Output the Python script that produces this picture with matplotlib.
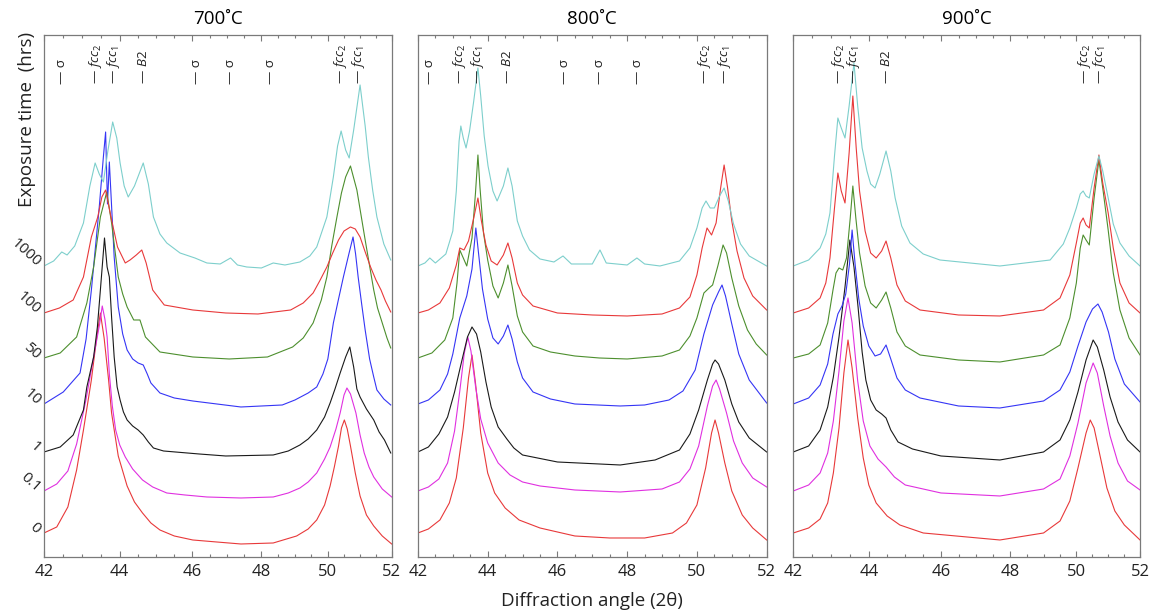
import matplotlib
matplotlib.use('Agg')
import matplotlib.pyplot as plt
import matplotlib.transforms as mtransforms
from matplotlib.ticker import FixedLocator, NullFormatter, FormatStrFormatter, MultipleLocator
import numpy as np

plt.rcParams['font.family'] = ['Open Sans', 'DejaVu Sans']
plt.rcParams['mathtext.fontset'] = 'custom'
plt.rcParams['mathtext.rm'] = 'Open Sans'
plt.rcParams['mathtext.it'] = 'Open Sans:italic'

# exposure times, bottom trace first
TIMES = ['0', '0.1', '1', '10', '50', '100', '1000']

# diffraction patterns: (2theta, intensity above own baseline)
# ---- 700 C ----
p700_0 = [(42.0, 0), (42.33, 6), (42.62, 26), (42.85, 63), (43.03, 103), (43.24, 153), (43.38, 195),
          (43.48, 220), (43.58, 195), (43.7, 153), (43.78, 120), (43.96, 77), (44.2, 47), (44.4, 31),
          (44.62, 20), (44.85, 10), (45.1, 3), (45.5, -3), (46.02, -7), (46.7, -9), (47.4, -11),
          (48.35, -10), (49.05, -3), (49.4, 4), (49.66, 13), (49.9, 28), (50.07, 47), (50.2, 66),
          (50.33, 87), (50.42, 105), (50.51, 113), (50.6, 104), (50.7, 87), (50.85, 60), (51.0, 37),
          (51.2, 18), (51.43, 7), (51.7, -3), (52.0, -11)]
p700_01 = [(42.0, 0), (42.33, 7), (42.62, 20), (42.85, 47), (43.09, 90), (43.3, 134), (43.46, 167),
           (43.53, 185), (43.6, 172), (43.66, 154), (43.72, 117), (43.8, 85), (43.89, 61), (44.0, 46),
           (44.15, 34), (44.35, 22), (44.62, 11), (44.9, 4), (45.29, -2), (45.8, -4), (46.42, -6),
           (47.4, -7), (48.35, -6), (48.8, -2), (49.15, 3), (49.4, 9), (49.66, 18), (49.9, 32),
           (50.07, 44), (50.25, 62), (50.38, 78), (50.5, 96), (50.59, 103), (50.7, 97), (50.87, 78),
           (51.0, 56), (51.13, 38), (51.28, 24), (51.43, 14), (51.7, 2), (52.0, -6)]
p700_1 = [(42.0, 0), (42.42, 5), (42.76, 17), (43.03, 42), (43.12, 65), (43.3, 95), (43.4, 125),
          (43.48, 162), (43.59, 214), (43.66, 185), (43.72, 175), (43.78, 135), (43.85, 95), (43.93, 65),
          (44.01, 52), (44.1, 40), (44.2, 32), (44.35, 26), (44.5, 22), (44.64, 17), (44.78, 10),
          (44.92, 4), (45.2, 1), (45.53, 0), (46.2, -2), (46.96, -4), (48.35, -3), (48.8, 1),
          (49.15, 7), (49.4, 13), (49.66, 22), (49.9, 35), (50.07, 49), (50.22, 63), (50.38, 79),
          (50.55, 95), (50.68, 105), (50.8, 85), (50.9, 63), (51.0, 55), (51.2, 43), (51.43, 32),
          (51.6, 20), (51.77, 12), (51.97, -1)]
p700_10 = [(42.0, 0), (42.5, 12), (42.94, 31), (43.1, 65), (43.24, 114), (43.45, 197), (43.56, 247),
           (43.62, 272), (43.67, 200), (43.72, 242), (43.85, 147), (43.96, 97), (44.08, 70), (44.2, 54),
           (44.35, 45), (44.5, 41), (44.64, 39), (44.75, 30), (44.85, 21), (45.1, 11), (45.5, 6),
           (46.02, 3), (47.4, -3), (48.62, -1), (49.0, 4), (49.4, 11), (49.66, 17), (49.85, 30),
           (50.0, 45), (50.17, 81), (50.33, 105), (50.48, 127), (50.65, 150), (50.78, 167), (50.86, 150),
           (50.94, 127), (51.05, 100), (51.16, 74), (51.3, 45), (51.43, 27), (51.53, 14), (51.75, 5),
           (51.97, -1)]
p700_50 = [(42.0, 0), (42.42, 5), (42.85, 21), (43.12, 55), (43.3, 91), (43.48, 141), (43.65, 166),
           (43.78, 135), (43.96, 81), (44.08, 64), (44.2, 51), (44.38, 38), (44.55, 38), (44.7, 21),
           (45.1, 6), (46.02, 1), (47.06, -1), (48.18, 1), (48.93, 11), (49.25, 20), (49.55, 35),
           (49.8, 58), (49.97, 81), (50.12, 112), (50.28, 141), (50.42, 165), (50.55, 181), (50.7, 192),
           (50.9, 168), (51.16, 118), (51.3, 92), (51.43, 68), (51.55, 50), (51.7, 35), (51.85, 20),
           (51.97, 10)]
p700_100 = [(42.0, 0), (42.4, 5), (42.76, 13), (43.03, 36), (43.24, 76), (43.41, 96), (43.52, 116),
            (43.62, 123), (43.78, 93), (43.94, 66), (44.15, 50), (44.28, 53), (44.45, 58), (44.6, 63),
            (44.72, 50), (44.9, 23), (45.22, 8), (46.02, 3), (46.96, 0), (47.9, -1), (48.87, 3),
            (49.25, 10), (49.55, 20), (49.75, 32), (49.97, 46), (50.15, 60), (50.33, 73), (50.5, 82),
            (50.7, 86), (50.85, 84), (51.0, 76), (51.15, 62), (51.33, 46), (51.5, 33), (51.66, 23),
            (51.8, 12), (51.97, 1)]
p700_1000 = [(42.0, 0), (42.25, 5), (42.46, 14), (42.6, 11), (42.8, 20), (43.03, 43), (43.2, 80),
             (43.34, 103), (43.45, 92), (43.56, 84), (43.68, 115), (43.81, 144), (43.92, 128),
             (44.01, 103), (44.12, 80), (44.23, 69), (44.4, 80), (44.64, 103), (44.78, 82), (44.92, 49),
             (45.1, 32), (45.29, 23), (45.66, 13), (46.08, 8), (46.42, 3), (46.8, 2), (47.1, 8),
             (47.3, 1), (47.57, -1), (48.0, -2), (48.35, 3), (48.7, 1), (49.15, 4), (49.45, 10),
             (49.66, 19), (49.97, 49), (50.17, 89), (50.3, 120), (50.41, 135), (50.55, 116),
             (50.66, 108), (50.8, 136), (51.0, 181), (51.16, 140), (51.26, 109), (51.4, 75),
             (51.53, 49), (51.75, 22), (51.97, 6)]

# ---- 800 C ----
p800_0 = [(42.0, 0), (42.3, 4), (42.63, 13), (42.9, 30), (43.1, 55), (43.3, 105), (43.45, 155),
          (43.55, 178), (43.65, 150), (43.8, 100), (44.0, 60), (44.2, 40), (44.5, 25), (44.9, 13),
          (45.5, 5), (46.5, -3), (47.5, -5), (48.5, -5), (49.3, 0), (49.7, 10), (50.0, 28),
          (50.25, 65), (50.42, 100), (50.52, 113), (50.62, 100), (50.8, 70), (51.0, 42), (51.3, 18),
          (51.6, 5), (52.0, -7)]
p800_01 = [(42.0, 0), (42.3, 4), (42.6, 12), (42.85, 28), (43.05, 60), (43.2, 100), (43.33, 138),
           (43.43, 154), (43.52, 140), (43.65, 105), (43.8, 72), (44.0, 48), (44.3, 28), (44.64, 16),
           (45.0, 9), (45.5, 5), (46.5, 1), (47.8, -1), (49.0, 2), (49.5, 9), (49.8, 22), (50.05, 45),
           (50.3, 85), (50.45, 105), (50.55, 111), (50.65, 102), (50.85, 78), (51.05, 50), (51.3, 28),
           (51.6, 13), (52.0, 4)]
p800_1 = [(42.0, 0), (42.3, 5), (42.6, 18), (42.85, 35), (43.05, 60), (43.25, 90), (43.42, 115),
          (43.55, 125), (43.68, 118), (43.8, 100), (43.95, 70), (44.1, 45), (44.3, 25), (44.55, 13),
          (44.75, 4), (45.0, -3), (46.0, -10), (47.8, -13), (48.8, -8), (49.5, 2), (49.8, 18),
          (50.05, 42), (50.3, 72), (50.45, 88), (50.52, 92), (50.62, 88), (50.8, 72), (51.0, 48),
          (51.2, 30), (51.5, 14), (52.0, 0)]
p800_10 = [(42.0, 0), (42.3, 4), (42.63, 14), (42.85, 30), (43.0, 50), (43.2, 86), (43.4, 108),
           (43.55, 135), (43.66, 176), (43.74, 150), (43.85, 115), (44.0, 85), (44.15, 66), (44.3, 60),
           (44.45, 68), (44.58, 79), (44.7, 65), (44.85, 42), (45.0, 26), (45.3, 12), (45.8, 5),
           (46.5, 0), (47.8, -2), (48.5, -1), (49.2, 4), (49.6, 13), (49.95, 34), (50.2, 70),
           (50.45, 99), (50.62, 112), (50.72, 119), (50.82, 108), (51.0, 80), (51.2, 50), (51.5, 24),
           (52.0, 1)]
p800_50 = [(42.0, 0), (42.4, 5), (42.77, 18), (43.0, 40), (43.12, 75), (43.2, 108), (43.3, 100),
           (43.4, 92), (43.55, 120), (43.65, 165), (43.72, 203), (43.78, 170), (43.88, 125), (44.0, 98),
           (44.15, 72), (44.3, 60), (44.45, 75), (44.58, 93), (44.7, 72), (44.85, 42), (45.0, 26),
           (45.3, 12), (45.8, 6), (46.5, 2), (47.2, 0), (48.0, -1), (49.0, 2), (49.5, 8), (49.8, 22),
           (50.0, 40), (50.2, 65), (50.35, 70), (50.45, 73), (50.6, 92), (50.75, 113), (50.85, 105),
           (51.0, 80), (51.2, 52), (51.45, 28), (51.7, 14), (52.0, 3)]
p800_100 = [(42.0, 0), (42.3, 3), (42.63, 10), (42.9, 25), (43.1, 48), (43.2, 65), (43.32, 63),
            (43.45, 72), (43.6, 95), (43.72, 115), (43.82, 92), (43.95, 68), (44.1, 52), (44.27, 48),
            (44.45, 58), (44.58, 70), (44.7, 55), (44.85, 30), (45.0, 18), (45.3, 7), (46.0, 0),
            (47.0, -2), (48.0, -3), (49.0, -1), (49.5, 5), (49.8, 16), (50.0, 38), (50.15, 65),
            (50.29, 85), (50.42, 78), (50.55, 90), (50.68, 125), (50.78, 148), (50.88, 125), (51.0, 92),
            (51.15, 62), (51.35, 35), (51.6, 17), (52.0, 3)]
p800_1000 = [(42.0, 0), (42.2, 3), (42.34, 8), (42.5, 3), (42.8, 12), (43.0, 35), (43.1, 75),
             (43.18, 125), (43.23, 140), (43.3, 128), (43.38, 118), (43.48, 135), (43.6, 165),
             (43.72, 198), (43.8, 170), (43.9, 130), (44.01, 100), (44.15, 75), (44.27, 65), (44.45, 80),
             (44.58, 98), (44.7, 80), (44.85, 45), (45.0, 30), (45.2, 16), (45.5, 7), (45.9, 4),
             (46.16, 10), (46.4, 2), (47.0, 2), (47.22, 16), (47.4, 3), (48.0, 1), (48.28, 8), (48.5, 2),
             (48.94, 0), (49.5, 5), (49.8, 18), (50.0, 38), (50.15, 58), (50.26, 65), (50.38, 58),
             (50.5, 58), (50.65, 70), (50.78, 78), (50.9, 65), (51.05, 42), (51.25, 22), (51.5, 10),
             (52.0, 0)]

# ---- 900 C ----
p900_0 = [(42.0, 0), (42.4, 5), (42.7, 14), (42.9, 30), (43.05, 60), (43.2, 105), (43.33, 160),
          (43.44, 193), (43.55, 165), (43.7, 115), (43.85, 75), (44.0, 48), (44.2, 30), (44.5, 17),
          (44.85, 8), (45.5, 0), (47.7, -7), (49.0, 0), (49.5, 12), (49.8, 32), (50.05, 65), (50.3, 100),
          (50.43, 113), (50.55, 105), (50.75, 75), (50.95, 45), (51.2, 22), (51.5, 8), (52.0, -7)]
p900_01 = [(42.0, 0), (42.4, 6), (42.7, 18), (42.9, 38), (43.05, 70), (43.2, 120), (43.33, 170),
           (43.44, 193), (43.55, 168), (43.7, 110), (43.85, 70), (44.03, 45), (44.25, 32), (44.47, 24),
           (44.7, 14), (45.0, 6), (46.0, -2), (47.7, -5), (49.0, 2), (49.5, 12), (49.8, 35), (50.05, 68),
           (50.3, 108), (50.52, 128), (50.65, 118), (50.85, 85), (51.05, 55), (51.3, 28), (51.6, 10),
           (52.0, 1)]
p900_1 = [(42.0, 0), (42.4, 6), (42.7, 22), (42.9, 45), (43.05, 75), (43.2, 115), (43.36, 165),
          (43.49, 212), (43.6, 185), (43.71, 145), (43.82, 100), (43.92, 72), (44.05, 52), (44.2, 42),
          (44.35, 38), (44.47, 34), (44.6, 22), (44.8, 10), (45.2, 3), (46.0, -4), (47.7, -8), (49.0, 0),
          (49.5, 12), (49.8, 32), (50.05, 60), (50.3, 92), (50.52, 112), (50.65, 105), (50.85, 82),
          (51.05, 55), (51.3, 30), (51.6, 12), (52.0, 0)]
p900_10 = [(42.0, 0), (42.4, 6), (42.7, 19), (42.9, 40), (43.04, 70), (43.17, 90), (43.28, 98),
           (43.38, 110), (43.48, 140), (43.55, 174), (43.63, 140), (43.73, 105), (43.85, 78), (44.0, 58),
           (44.17, 48), (44.32, 50), (44.47, 59), (44.6, 45), (44.77, 26), (45.0, 14), (45.41, 6),
           (46.5, -2), (47.7, -4), (49.0, 3), (49.5, 14), (49.8, 32), (50.05, 58), (50.3, 82),
           (50.5, 95), (50.67, 100), (50.8, 92), (51.0, 72), (51.2, 45), (51.5, 20), (52.0, 2)]
p900_50 = [(42.0, 0), (42.4, 4), (42.7, 13), (42.9, 35), (43.04, 68), (43.12, 85), (43.2, 90),
           (43.3, 88), (43.4, 100), (43.5, 140), (43.57, 172), (43.65, 140), (43.75, 105), (43.9, 72),
           (44.05, 55), (44.2, 50), (44.35, 58), (44.47, 66), (44.6, 50), (44.77, 26), (45.0, 12),
           (45.41, 3), (46.5, -2), (47.7, -4), (49.0, 3), (49.5, 13), (49.8, 40), (50.0, 75),
           (50.12, 110), (50.21, 123), (50.3, 118), (50.4, 113), (50.55, 160), (50.7, 198), (50.82, 170),
           (50.99, 128), (51.15, 85), (51.36, 48), (51.65, 20), (52.0, 3)]
p900_100 = [(42.0, 0), (42.4, 5), (42.7, 15), (42.85, 30), (42.96, 55), (43.08, 105), (43.17, 140),
            (43.26, 122), (43.36, 110), (43.47, 160), (43.57, 217), (43.66, 165), (43.75, 122),
            (43.9, 82), (44.05, 60), (44.2, 55), (44.35, 62), (44.47, 72), (44.6, 55), (44.77, 28),
            (45.0, 12), (45.41, 3), (46.5, -2), (47.7, -3), (49.0, 3), (49.5, 15), (49.8, 38), (50.0, 70),
            (50.12, 90), (50.21, 95), (50.3, 88), (50.4, 85), (50.55, 125), (50.7, 158), (50.82, 130),
            (50.99, 100), (51.15, 65), (51.36, 30), (51.65, 10), (52.0, 0)]
p900_1000 = [(42.0, 0), (42.4, 6), (42.7, 18), (42.85, 32), (42.96, 53), (43.08, 110), (43.17, 148),
             (43.26, 138), (43.36, 128), (43.47, 160), (43.6, 203), (43.7, 160), (43.82, 118),
             (43.95, 95), (44.05, 82), (44.17, 78), (44.3, 92), (44.47, 115), (44.6, 95), (44.72, 68),
             (44.9, 40), (45.13, 23), (45.5, 12), (45.97, 6), (47.7, 0), (49.2, 6), (49.6, 22),
             (49.8, 38), (50.0, 58), (50.12, 72), (50.21, 75), (50.3, 70), (50.4, 68), (50.55, 92),
             (50.7, 110), (50.82, 95), (50.99, 68), (51.15, 42), (51.36, 23), (51.65, 10), (52.0, 0)]

# phase markers along the top of each panel
phases700 = [('σ', 42.46), ('fcc_2', 43.36), ('fcc_1', 43.82), ('B2', 44.66), ('σ', 46.12),
             ('σ', 47.1), ('σ', 48.26), ('fcc_2', 50.39), ('fcc_1', 50.94)]
phases800 = [('σ', 42.34), ('fcc_2', 43.2), ('fcc_1', 43.7), ('B2', 44.56), ('σ', 46.19),
             ('σ', 47.22), ('σ', 48.3), ('fcc_2', 50.23), ('fcc_1', 50.8)]
phases900 = [('fcc_2', 43.18), ('fcc_1', 43.6), ('B2', 44.47), ('fcc_2', 50.24), ('fcc_1', 50.71)]

# vertical stacking of the traces and their colours (bottom to top)
OFFSETS = [24, 66, 105, 153, 199, 244, 291]
COLORS = ['#e8393a', '#e030e0', '#1a1a1a', '#3535f5', '#4d8f2e', '#e8393a', '#7dcfcc']
GREY = '#7a7a7a'


def phase_text(name):
    if name == 'σ':
        return '— σ'
    if name == 'B2':
        return r'$\mathrm{—}\ \mathit{B2}$'
    base, sub = name.split('_')
    return r'$\mathrm{—}\ \mathit{%s}_{%s}$' % (base, sub)


panels = [
    ('700˚C', [p700_0, p700_01, p700_1, p700_10, p700_50, p700_100, p700_1000], phases700, True,
     [0.0382, 0.0958, 0.3018, 0.8474]),
    ('800˚C', [p800_0, p800_01, p800_1, p800_10, p800_50, p800_100, p800_1000], phases800, False,
     [0.3628, 0.0958, 0.3027, 0.8474]),
    ('900˚C', [p900_0, p900_01, p900_1, p900_10, p900_50, p900_100, p900_1000], phases900, True,
     [0.6886, 0.0958, 0.3010, 0.8474]),
]

fig = plt.figure(figsize=(11.52, 6.16), dpi=100)

for k, (title, traces, phases, logx, box) in enumerate(panels):
    ax = fig.add_axes(box)
    if logx:
        ax.set_xscale('log')
    for i, tr in enumerate(traces):
        xs = [p[0] for p in tr]
        ys = [p[1] + OFFSETS[i] for p in tr]
        ax.plot(xs, ys, color=COLORS[i], lw=0.8)

    ax.set_xlim(42, 52)
    ax.set_ylim(0, 522)
    if logx:
        ax.xaxis.set_major_locator(FixedLocator([42, 44, 46, 48, 50, 52]))
        ax.xaxis.set_minor_locator(FixedLocator(np.arange(42.5, 52, 0.5)))
    else:
        ax.xaxis.set_major_locator(MultipleLocator(2))
        ax.xaxis.set_minor_locator(MultipleLocator(0.5))
    ax.xaxis.set_major_formatter(FormatStrFormatter('%d'))
    ax.xaxis.set_minor_formatter(NullFormatter())
    ax.set_yticks([])
    ax.tick_params(axis='x', which='both', direction='in', top=True, bottom=True,
                   colors=GREY, labelcolor='#222222', labelsize=12, pad=5)
    ax.tick_params(axis='x', which='major', length=4.5, width=0.8)
    ax.tick_params(axis='x', which='minor', length=2.3, width=0.8)
    for sp in ax.spines.values():
        sp.set_color(GREY)
        sp.set_linewidth(0.9)

    ax.set_title(title, fontsize=13.5, pad=8)

    trans = mtransforms.blended_transform_factory(ax.transData, ax.transAxes)
    for name, pos in phases:
        ax.text(pos, 0.906, phase_text(name), rotation=90, ha='center', va='bottom',
                transform=trans, fontsize=9.5, color='#222222')

    if k == 0:
        for i, t in enumerate(TIMES):
            ax.annotate(t, xy=(0, OFFSETS[i]), xycoords=('axes fraction', 'data'),
                        xytext=(-4, 1), textcoords='offset points', rotation=-42,
                        rotation_mode='anchor', ha='right', va='center', fontsize=11,
                        color='#222222')

fig.text(0.0234, 0.948, 'Exposure time  (hrs)', rotation=90, ha='center', va='top', fontsize=13.5,
         color='#222222')
fig.text(0.514, 0.025, 'Diffraction angle (2θ)', ha='center', va='center', fontsize=13.5,
         color='#222222')

fig.savefig('out.png', dpi=100)
